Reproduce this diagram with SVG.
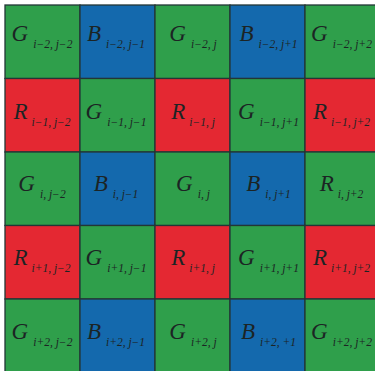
<svg xmlns="http://www.w3.org/2000/svg" width="375" height="371" viewBox="0 0 375 371">
<style>
.g{fill:#2f9f4b}
.b{fill:#1469ad}
.r{fill:#e42832}
rect{stroke:#233636;stroke-width:1.3}
text{font-family:"Liberation Serif","DejaVu Serif",serif;font-style:italic;fill:#1c2424;text-anchor:middle}
.m{font-size:23px}
.s{font-size:11.5px}
</style>
<rect x="0" y="0" width="375" height="371" fill="#ffffff" style="stroke:none"/>
<g id="row1">
<g id="c11"><rect class="g" x="5" y="5" width="75" height="73.5"/><text x="42" y="41"><tspan class="m">G</tspan><tspan class="s" dx="5" dy="7">i−2, j−2</tspan></text></g>
<g id="c12"><rect class="b" x="80" y="5" width="75" height="73.5"/><text x="116" y="41"><tspan class="m">B</tspan><tspan class="s" dx="5" dy="7">i−2, j−1</tspan></text></g>
<g id="c13"><rect class="g" x="155" y="5" width="75" height="73.5"/><text x="193" y="41"><tspan class="m">G</tspan><tspan class="s" dx="5" dy="7">i−2, j</tspan></text></g>
<g id="c14"><rect class="b" x="230" y="5" width="75" height="73.5"/><text x="268.5" y="41"><tspan class="m">B</tspan><tspan class="s" dx="5" dy="7">i−2, j+1</tspan></text></g>
<g id="c15"><rect class="g" x="305" y="5" width="75" height="73.5"/><text x="341.5" y="41"><tspan class="m">G</tspan><tspan class="s" dx="5" dy="7">i−2, j+2</tspan></text></g>
</g>
<g id="row2">
<g id="c21"><rect class="r" x="5" y="78.5" width="75" height="73.5"/><text x="42" y="119"><tspan class="m">R</tspan><tspan class="s" dx="4" dy="7">i−1, j−2</tspan></text></g>
<g id="c22"><rect class="g" x="80" y="78.5" width="75" height="73.5"/><text x="116" y="119"><tspan class="m">G</tspan><tspan class="s" dx="5" dy="7">i−1, j−1</tspan></text></g>
<g id="c23"><rect class="r" x="155" y="78.5" width="75" height="73.5"/><text x="193" y="119"><tspan class="m">R</tspan><tspan class="s" dx="4" dy="7">i−1, j</tspan></text></g>
<g id="c24"><rect class="g" x="230" y="78.5" width="75" height="73.5"/><text x="268.5" y="119"><tspan class="m">G</tspan><tspan class="s" dx="5" dy="7">i−1, j+1</tspan></text></g>
<g id="c25"><rect class="r" x="305" y="78.5" width="75" height="73.5"/><text x="341.5" y="119"><tspan class="m">R</tspan><tspan class="s" dx="4" dy="7">i−1, j+2</tspan></text></g>
</g>
<g id="row3">
<g id="c31"><rect class="g" x="5" y="152" width="75" height="73.5"/><text x="42" y="191"><tspan class="m">G</tspan><tspan class="s" dx="5" dy="7">i, j−2</tspan></text></g>
<g id="c32"><rect class="b" x="80" y="152" width="75" height="73.5"/><text x="116" y="191"><tspan class="m">B</tspan><tspan class="s" dx="5" dy="7">i, j−1</tspan></text></g>
<g id="c33"><rect class="g" x="155" y="152" width="75" height="73.5"/><text x="193" y="191"><tspan class="m">G</tspan><tspan class="s" dx="5" dy="7">i, j</tspan></text></g>
<g id="c34"><rect class="b" x="230" y="152" width="75" height="73.5"/><text x="268.5" y="191"><tspan class="m">B</tspan><tspan class="s" dx="5" dy="7">i, j+1</tspan></text></g>
<g id="c35"><rect class="g" x="305" y="152" width="75" height="73.5"/><text x="341.5" y="191"><tspan class="m">R</tspan><tspan class="s" dx="4" dy="7">i, j+2</tspan></text></g>
</g>
<g id="row4">
<g id="c41"><rect class="r" x="5" y="225.5" width="75" height="73.5"/><text x="42" y="265"><tspan class="m">R</tspan><tspan class="s" dx="4" dy="7">i+1, j−2</tspan></text></g>
<g id="c42"><rect class="g" x="80" y="225.5" width="75" height="73.5"/><text x="116" y="265"><tspan class="m">G</tspan><tspan class="s" dx="5" dy="7">i+1, j−1</tspan></text></g>
<g id="c43"><rect class="r" x="155" y="225.5" width="75" height="73.5"/><text x="193" y="265"><tspan class="m">R</tspan><tspan class="s" dx="4" dy="7">i+1, j</tspan></text></g>
<g id="c44"><rect class="g" x="230" y="225.5" width="75" height="73.5"/><text x="268.5" y="265"><tspan class="m">G</tspan><tspan class="s" dx="5" dy="7">i+1, j+1</tspan></text></g>
<g id="c45"><rect class="r" x="305" y="225.5" width="75" height="73.5"/><text x="341.5" y="265"><tspan class="m">R</tspan><tspan class="s" dx="4" dy="7">i+1, j+2</tspan></text></g>
</g>
<g id="row5">
<g id="c51"><rect class="g" x="5" y="299" width="75" height="73.5"/><text x="42" y="339"><tspan class="m">G</tspan><tspan class="s" dx="5" dy="7">i+2, j−2</tspan></text></g>
<g id="c52"><rect class="b" x="80" y="299" width="75" height="73.5"/><text x="116" y="339"><tspan class="m">B</tspan><tspan class="s" dx="5" dy="7">i+2, j−1</tspan></text></g>
<g id="c53"><rect class="g" x="155" y="299" width="75" height="73.5"/><text x="193" y="339"><tspan class="m">G</tspan><tspan class="s" dx="5" dy="7">i+2, j</tspan></text></g>
<g id="c54"><rect class="b" x="230" y="299" width="75" height="73.5"/><text x="268.5" y="339"><tspan class="m">B</tspan><tspan class="s" dx="5" dy="7">i+2, +1</tspan></text></g>
<g id="c55"><rect class="g" x="305" y="299" width="75" height="73.5"/><text x="341.5" y="339"><tspan class="m">G</tspan><tspan class="s" dx="5" dy="7">i+2, j+2</tspan></text></g>
</g>
<g id="connectors"/>
</svg>
